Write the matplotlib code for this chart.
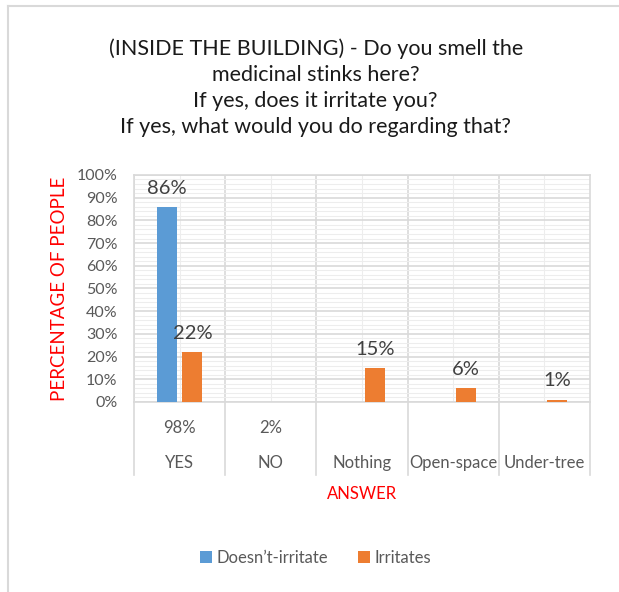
import matplotlib
matplotlib.use('Agg')
import matplotlib.pyplot as plt
import numpy as np
from matplotlib.lines import Line2D
from matplotlib.patches import Patch
import matplotlib.transforms as mtransforms

plt.rcParams['font.family'] = ['Lato', 'DejaVu Sans']

# 数据
categories = ['YES', 'NO', 'Nothing', 'Open-space', 'Under-tree']
top_labels = ['98%', '2%', '', '', '']
doesnt_irritate = [86, np.nan, np.nan, np.nan, np.nan]
irritates = [22, np.nan, 15, 6, 1]
series_names = ["Doesn\u2019t-irritate", 'Irritates']

blue = '#5B9BD5'
orange = '#ED7D31'
grid_major = '#D9D9D9'
grid_minor = '#EDEDED'
text_gray = '#595959'

fig = plt.figure(figsize=(6.19, 5.92), dpi=100)
ax = fig.add_axes([0.2165, 0.321, 0.7365, 0.3835])

x = np.arange(len(categories))
w = 0.22
off = 0.14
b1 = ax.bar(x - off, doesnt_irritate, w, color=blue, zorder=3)
b2 = ax.bar(x + off, irritates, w, color=orange, zorder=3)

# 数据标签
for bars, vals in [(b1, doesnt_irritate), (b2, irritates)]:
    for rect, v in zip(bars, vals):
        if np.isnan(v):
            continue
        ax.text(rect.get_x() + rect.get_width() / 2, v + 4.5, f'{v:.0f}%',
                ha='center', va='bottom', fontsize=14.5, color='#404040', zorder=4)

ax.set_xlim(-0.5, len(categories) - 0.5)
ax.set_ylim(0, 100)
ax.set_yticks(np.arange(0, 101, 10))
ax.set_yticklabels([f'{t}%' for t in range(0, 101, 10)])
ax.set_yticks(np.arange(0, 101, 2), minor=True)
ax.set_xticks(np.arange(len(categories)) - 0.5)
ax.set_xticks(np.arange(len(categories)), minor=True)
ax.set_xticklabels([])
ax.tick_params(axis='both', which='both', length=0)
ax.tick_params(axis='y', labelsize=11.5, labelcolor=text_gray, pad=12)

ax.grid(which='major', color=grid_major, linewidth=1.2, zorder=0)
ax.grid(which='minor', color=grid_minor, linewidth=0.8, zorder=0)
ax.set_axisbelow(True)
for s in ax.spines.values():
    s.set_color(grid_major)
    s.set_linewidth(1.2)

# 分级分类轴
trans = mtransforms.blended_transform_factory(ax.transData, ax.transAxes)
for b in np.arange(len(categories) + 1) - 0.5:
    ax.plot([b, b], [0, -0.32], transform=trans, color=grid_major,
            linewidth=1.2, clip_on=False)
for i, (c, t) in enumerate(zip(categories, top_labels)):
    if t:
        ax.text(i, -0.115, t, transform=trans, ha='center', va='center',
                fontsize=12, color=text_gray)
    ax.text(i, -0.27, c, transform=trans, ha='center', va='center',
            fontsize=12, color=text_gray)

ax.text(0.5, -0.405, 'ANSWER', transform=ax.transAxes, ha='center',
        va='center', fontsize=12, color='#FF0000')
ax.set_ylabel('PERCENTAGE OF PEOPLE', fontsize=13.5, color='#FF0000', labelpad=6)

fig.text(0.51, 0.852,
         '(INSIDE THE BUILDING) - Do you smell the\nmedicinal stinks here?\n'
         'If yes, does it irritate you?\nIf yes, what would you do regarding that?',
         ha='center', va='center', fontsize=15.5, color='#1a1a1a', linespacing=1.38)

handles = [Patch(facecolor=blue), Patch(facecolor=orange)]
fig.legend(handles, series_names, loc='center', bbox_to_anchor=(0.51, 0.058),
           ncol=2, frameon=False, fontsize=12, handlelength=0.7, handleheight=0.7,
           handletextpad=0.3, columnspacing=1.8, labelcolor=text_gray)

# 图表外框
fig.add_artist(Line2D([8 / 619, 8 / 619], [0, 1 - 6 / 592], color='#D9D9D9', linewidth=1.5))
fig.add_artist(Line2D([8 / 619, 1], [1 - 6 / 592, 1 - 6 / 592], color='#D9D9D9', linewidth=1.5))

fig.savefig('out.png', dpi=100)
